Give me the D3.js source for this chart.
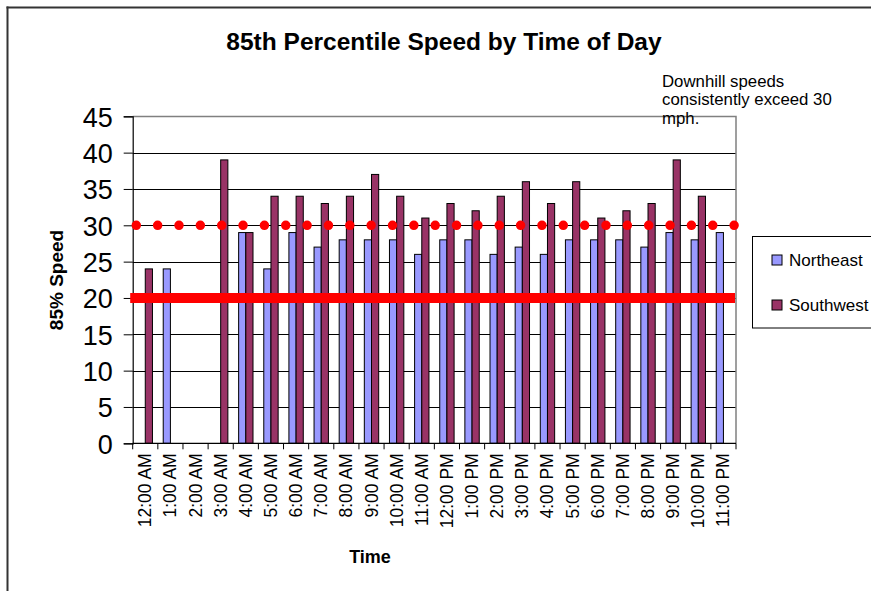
<!DOCTYPE html>
<html>
<head>
<meta charset="utf-8">
<script src="https://cdn.jsdelivr.net/npm/d3@7"></script>
<style>
html,body{margin:0;padding:0;background:#fff;}
svg{display:block;font-family:"Liberation Sans",Arial,Helvetica,sans-serif;}
</style>
</head>
<body>
<svg id="chart" width="871" height="591"></svg>
<script>
const categories = ["12:00 AM","1:00 AM","2:00 AM","3:00 AM","4:00 AM","5:00 AM","6:00 AM","7:00 AM","8:00 AM","9:00 AM","10:00 AM","11:00 AM","12:00 PM","1:00 PM","2:00 PM","3:00 PM","4:00 PM","5:00 PM","6:00 PM","7:00 PM","8:00 PM","9:00 PM","10:00 PM","11:00 PM"];
const northeast = [null,24,null,null,29,24,29,27,28,28,28,26,28,28,26,27,26,28,28,28,27,29,28,29];
const southwest = [24,null,null,39,29,34,34,33,34,37,34,31,33,32,34,36,33,36,31,32,33,39,34,null];
const seriesNames = ["Northeast","Southwest"];
const seriesColors = ["#9999FF","#993366"];
const yTicks = [0,5,10,15,20,25,30,35,40,45];
const speedLimit = 20;
const downhillThreshold = 30;
const titleText = "85th Percentile Speed by Time of Day";
const yTitle = "85% Speed";
const xTitle = "Time";
const noteLines = ["Downhill speeds","consistently exceed 30","mph."];

const svg = d3.select("#chart");
const W = 871, H = 591;
const plot = {left:132.7, right:736, top:116.3, bottom:443.3};

// outer frame
svg.append("line").attr("x1",7.5).attr("x2",7.5).attr("y1",6.5).attr("y2",H).attr("stroke","#333").attr("stroke-width",2);
svg.append("line").attr("x1",6.5).attr("x2",W).attr("y1",7.5).attr("y2",7.5).attr("stroke","#333").attr("stroke-width",2);

const x = d3.scaleBand().domain(categories).range([plot.left, plot.right]).paddingInner(0).paddingOuter(0);
const y = d3.scaleLinear().domain([0,45]).range([plot.bottom, plot.top]);
const cw = x.bandwidth();
const bw = cw/3.5;

// gridlines
svg.append("g").selectAll("line").data(yTicks.filter(t=>t>0 && t<45)).join("line")
  .attr("x1",plot.left).attr("x2",plot.right)
  .attr("y1",d=>Math.round(y(d))+0.5).attr("y2",d=>Math.round(y(d))+0.5)
  .attr("stroke","#000").attr("stroke-width",1);
// plot border top/right grey
svg.append("path")
  .attr("d",`M${plot.left},${Math.round(plot.top)+0.5}H${plot.right}V${plot.bottom}`)
  .attr("fill","none").attr("stroke","#808080").attr("stroke-width",1.5);

// bars
const allSeries = [northeast, southwest];
allSeries.forEach((vals,si)=>{
  svg.append("g").selectAll("rect").data(vals.map((v,i)=>({v,c:categories[i]})).filter(d=>d.v!=null)).join("rect")
    .attr("x",d=>x(d.c)+cw/2 - bw + si*bw)
    .attr("y",d=>y(d.v))
    .attr("width",bw)
    .attr("height",d=>plot.bottom-y(d.v))
    .attr("fill",seriesColors[si])
    .attr("stroke","#000").attr("stroke-width",1);
});

// y axis
const yAxis = d3.axisLeft(y).tickValues(yTicks).tickSize(9).tickPadding(11);
const gy = svg.append("g").attr("transform",`translate(${plot.left},0)`).call(yAxis);
gy.select(".domain").attr("stroke","#000").attr("stroke-width",1.2);
gy.selectAll(".tick line").attr("stroke","#000");
gy.selectAll(".tick text").attr("font-size",27).attr("fill","#000").attr("font-family","Liberation Sans, Arial, sans-serif").attr("dy","0.36em");

// x axis
const gx = svg.append("g").attr("transform",`translate(0,${plot.bottom})`);
gx.append("line").attr("x1",plot.left).attr("x2",plot.right).attr("y1",0).attr("y2",0).attr("stroke","#000").attr("stroke-width",1.2);
const bounds = categories.map(c=>x(c)).concat([plot.right]);
gx.selectAll("line.tk").data(bounds).join("line").attr("class","tk")
  .attr("x1",d=>d).attr("x2",d=>d).attr("y1",0).attr("y2",6).attr("stroke","#000");
gx.selectAll("text").data(categories).join("text")
  .attr("transform",d=>`translate(${x(d)+cw/2+6},${10}) rotate(-90)`)
  .attr("text-anchor","end").attr("font-size",17.5).attr("fill","#000")
  .text(d=>d);

// reference lines
svg.append("line").attr("x1",plot.left-2.5).attr("x2",plot.right-1).attr("y1",y(speedLimit)).attr("y2",y(speedLimit))
  .attr("stroke","#FF0000").attr("stroke-width",10);
svg.append("line").attr("x1",plot.left+3.6).attr("x2",plot.right+2).attr("y1",y(downhillThreshold)).attr("y2",y(downhillThreshold))
  .attr("stroke","#FF0000").attr("stroke-width",9.5).attr("stroke-linecap","round")
  .attr("stroke-dasharray","0 21.35");

// titles
svg.append("text").attr("x",444).attr("y",50).attr("text-anchor","middle")
  .attr("font-size",24.5).attr("font-weight","bold").text(titleText);
svg.append("text").attr("transform","translate(63,280) rotate(-90)").attr("text-anchor","middle")
  .attr("font-size",19).attr("font-weight","bold").text(yTitle);
svg.append("text").attr("x",370).attr("y",563).attr("text-anchor","middle")
  .attr("font-size",18).attr("font-weight","bold").text(xTitle);

// note
svg.append("g").selectAll("text").data(noteLines).join("text")
  .attr("x",662).attr("y",(d,i)=>87+i*18.3).attr("font-size",16.8).text(d=>d);

// legend
const lg = svg.append("g");
lg.append("rect").attr("x",752.5).attr("y",236.5).attr("width",130).attr("height",91.5)
  .attr("fill","#fff").attr("stroke","#000").attr("stroke-width",1);
seriesNames.forEach((n,i)=>{
  const cy = 260 + i*45;
  lg.append("rect").attr("x",772).attr("y",cy-5).attr("width",10).attr("height",10)
    .attr("fill",seriesColors[i]).attr("stroke","#000").attr("stroke-width",1);
  lg.append("text").attr("x",789).attr("y",cy+6).attr("font-size",17).text(n);
});
</script>
</body>
</html>
